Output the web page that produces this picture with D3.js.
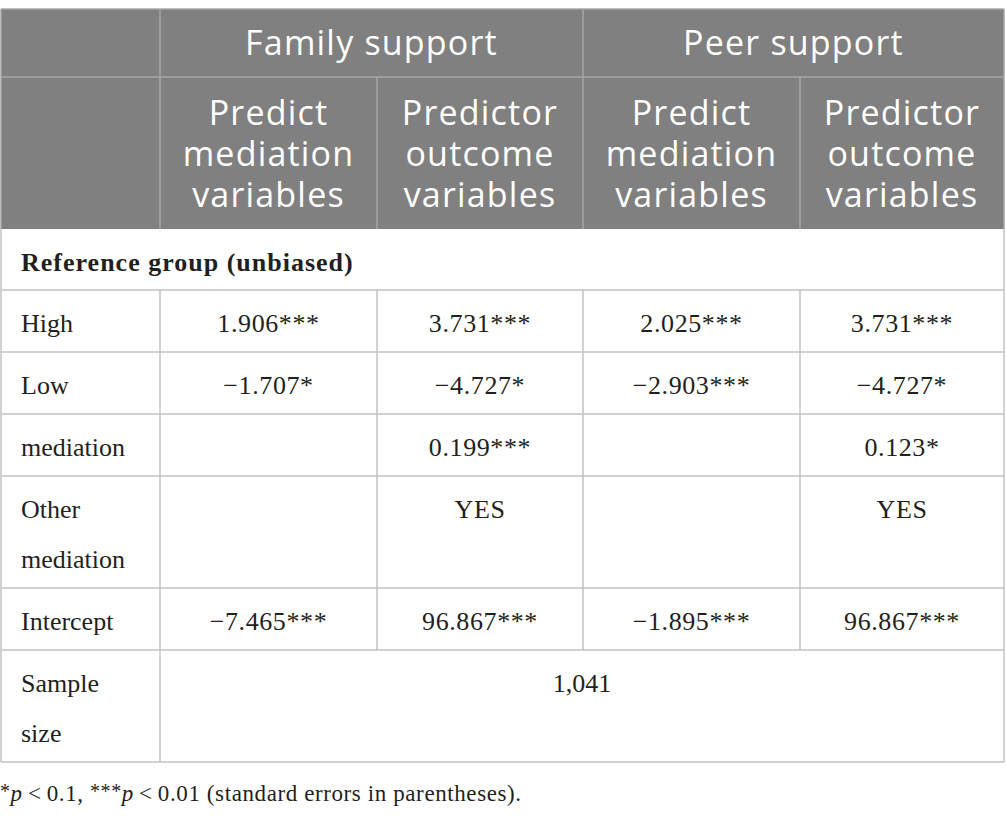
<!DOCTYPE html>
<html><head><meta charset="utf-8">
<script src="https://cdn.jsdelivr.net/npm/d3@7/dist/d3.min.js"></script>
<style>
html,body{margin:0;padding:0;background:#fff;}
</style></head>
<body>
<svg id="t" width="1006" height="820"></svg>
<script>
// ---- data ----
const groups = ["Family support", "Peer support"];
const subHeaders = [["Predict","mediation","variables"],["Predictor","outcome","variables"]];
const sectionTitle = "Reference group (unbiased)";
const rowLabels = [["High"],["Low"],["mediation"],["Other","mediation"],["Intercept"],["Sample","size"]];
const familyMediation = ["1.906***","\u22121.707*","","","\u22127.465***"];
const familyOutcome   = ["3.731***","\u22124.727*","0.199***","YES","96.867***"];
const peerMediation   = ["2.025***","\u22122.903***","","","\u22121.895***"];
const peerOutcome     = ["3.731***","\u22124.727*","0.123*","YES","96.867***"];
const sampleSize = "1,041";

// ---- layout ----
const svg = d3.select("#t");
const colEdges = [1,160,377,583,800,1004];
const cx = i => colEdges[i];
const tTop = 9, h1 = 68, h2 = 152, secH = 61, lineH = 62, extraLine = 50;
const headFill = "#808080", headLine = "#a6a6a6", bodyLine = "#c2c2c2";
const ink = "#231f20";
const sans = "'Open Sans', sans-serif", serif = "'Liberation Serif', 'Times New Roman', serif";

svg.append("rect").attr("x",cx(0)).attr("y",tTop).attr("width",cx(5)-cx(0)).attr("height",h1+h2).attr("fill",headFill);
const hl = svg.append("g").attr("stroke",headLine).attr("stroke-width",1.5);
hl.append("line").attr("x1",cx(0)).attr("x2",cx(5)).attr("y1",tTop+h1).attr("y2",tTop+h1);
hl.append("line").attr("x1",cx(0)).attr("x2",cx(5)).attr("y1",tTop).attr("y2",tTop);
[1,3].forEach(i=>hl.append("line").attr("x1",cx(i)).attr("x2",cx(i)).attr("y1",tTop).attr("y2",tTop+h1+h2));
[2,4].forEach(i=>hl.append("line").attr("x1",cx(i)).attr("x2",cx(i)).attr("y1",tTop+h1).attr("y2",tTop+h1+h2));
hl.append("line").attr("x1",cx(0)).attr("x2",cx(0)).attr("y1",tTop).attr("y2",tTop+h1+h2);
hl.append("line").attr("x1",cx(5)).attr("x2",cx(5)).attr("y1",tTop).attr("y2",tTop+h1+h2);

svg.selectAll("text.grp").data(groups).enter().append("text").attr("class","grp")
  .attr("x",(d,i)=>(cx(1+2*i)+cx(3+2*i))/2).attr("y",tTop+h1/2+12)
  .attr("text-anchor","middle").attr("fill","#fff").attr("font-family",sans).attr("font-size",34)
  .attr("letter-spacing",1.2)
  .text(d=>d);
const subs = [0,1,2,3].map(i=>({col:i+1, lines: subHeaders[i%2]}));
subs.forEach(s=>{
  const t = svg.append("text").attr("text-anchor","middle").attr("fill","#fff")
    .attr("font-family",sans).attr("font-size",34).attr("letter-spacing",1.2);
  s.lines.forEach((l,k)=>t.append("tspan").attr("x",(cx(s.col)+cx(s.col+1))/2)
    .attr("y",tTop+h1+48+k*41).text(l));
});

let y0 = tTop+h1+h2;
const body = svg.append("g");
body.append("text").attr("x",21).attr("y",y0+42).attr("font-family",serif).attr("font-weight","bold")
  .attr("font-size",26).attr("letter-spacing",1).attr("fill",ink).text(sectionTitle);
const bl = svg.append("g").attr("stroke",bodyLine).attr("stroke-width",1.5);
let yy = y0+secH;
bl.append("line").attr("x1",cx(0)).attr("x2",cx(5)).attr("y1",yy).attr("y2",yy);
bl.append("line").attr("x1",cx(0)).attr("x2",cx(0)).attr("y1",y0).attr("y2",yy);
bl.append("line").attr("x1",cx(5)).attr("x2",cx(5)).attr("y1",y0).attr("y2",yy);

const cols = [familyMediation, familyOutcome, peerMediation, peerOutcome];
rowLabels.forEach((lab,r)=>{
  const rh = lineH + (lab.length-1)*extraLine;
  const t = body.append("text").attr("font-family",serif).attr("font-size",26).attr("fill",ink);
  lab.forEach((l,k)=>t.append("tspan").attr("x",21).attr("y",yy+42+k*extraLine).text(l));
  if (r < familyMediation.length) {
    cols.forEach((c,ci)=>{
      body.append("text").attr("x",(cx(ci+1)+cx(ci+2))/2).attr("y",yy+42)
        .attr("text-anchor","middle").attr("font-family",serif).attr("font-size",26).attr("fill",ink)
        .attr("letter-spacing",0.6)
        .text(c[r]);
    });
    [1,2,3,4].forEach(i=>bl.append("line").attr("x1",cx(i)).attr("x2",cx(i)).attr("y1",yy).attr("y2",yy+rh));
  } else {
    body.append("text").attr("x",(cx(1)+cx(5))/2).attr("y",yy+42)
      .attr("text-anchor","middle").attr("font-family",serif).attr("font-size",26).attr("fill",ink)
      .text(sampleSize);
    bl.append("line").attr("x1",cx(1)).attr("x2",cx(1)).attr("y1",yy).attr("y2",yy+rh);
  }
  bl.append("line").attr("x1",cx(0)).attr("x2",cx(0)).attr("y1",yy).attr("y2",yy+rh);
  bl.append("line").attr("x1",cx(5)).attr("x2",cx(5)).attr("y1",yy).attr("y2",yy+rh);
  yy += rh;
  bl.append("line").attr("x1",cx(0)).attr("x2",cx(5)).attr("y1",yy).attr("y2",yy);
});

const fn = svg.append("text").attr("x",0).attr("y",yy+39).attr("font-family",serif).attr("font-size",23)
  .attr("letter-spacing",0.6).attr("fill",ink);
fn.append("tspan").attr("font-size",20).attr("dy",-3).text("*");
fn.append("tspan").attr("font-style","italic").attr("dy",3).text("p");
fn.append("tspan").text("\u2009<\u20090.1, ");
fn.append("tspan").attr("font-size",20).attr("dy",-3).text("***");
fn.append("tspan").attr("font-style","italic").attr("dy",3).text("p");
fn.append("tspan").text("\u2009<\u20090.01 (standard errors in parentheses).");
</script>
</body></html>
